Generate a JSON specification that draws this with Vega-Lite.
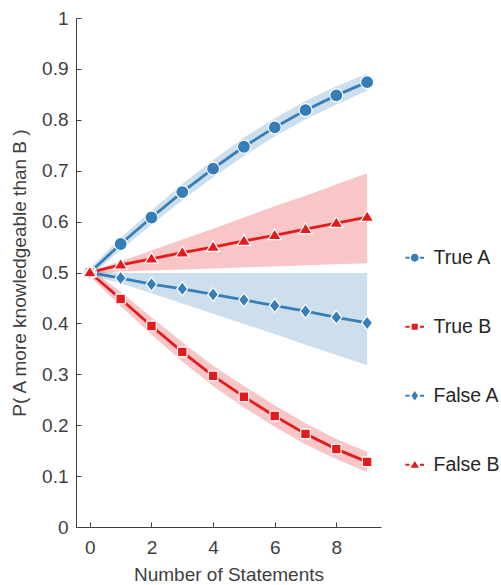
{
  "$schema": "https://vega.github.io/schema/vega-lite/v6.json",
  "autosize": {"type": "none"},
  "padding": {"left": 76, "top": 18, "right": 120, "bottom": 58},
  "width": 305,
  "height": 509,
  "background": "white",
  "config": {
    "view": {"stroke": null},
    "font": "Liberation Sans",
    "axis": {
      "grid": false,
      "domainColor": "#404040",
      "domainWidth": 1,
      "tickColor": "#404040",
      "tickSize": -5,
      "labelFont": "Liberation Sans",
      "labelFontSize": 19,
      "labelColor": "#404040",
      "titleFont": "Liberation Sans",
      "titleFontSize": 19,
      "titleFontWeight": "normal",
      "titleColor": "#404040"
    }
  },
  "data": {
    "values": [
      {"series": "True A", "x": 0, "y": 0.5, "lo": 0.492, "hi": 0.508},
      {"series": "True A", "x": 1, "y": 0.556, "lo": 0.544, "hi": 0.568},
      {"series": "True A", "x": 2, "y": 0.608, "lo": 0.594, "hi": 0.622},
      {"series": "True A", "x": 3, "y": 0.658, "lo": 0.642, "hi": 0.674},
      {"series": "True A", "x": 4, "y": 0.704, "lo": 0.687, "hi": 0.721},
      {"series": "True A", "x": 5, "y": 0.747, "lo": 0.729, "hi": 0.765},
      {"series": "True A", "x": 6, "y": 0.785, "lo": 0.767, "hi": 0.803},
      {"series": "True A", "x": 7, "y": 0.819, "lo": 0.801, "hi": 0.837},
      {"series": "True A", "x": 8, "y": 0.848, "lo": 0.830, "hi": 0.866},
      {"series": "True A", "x": 9, "y": 0.874, "lo": 0.857, "hi": 0.891},
      {"series": "True B", "x": 0, "y": 0.5, "lo": 0.492, "hi": 0.508},
      {"series": "True B", "x": 1, "y": 0.448, "lo": 0.434, "hi": 0.462},
      {"series": "True B", "x": 2, "y": 0.395, "lo": 0.378, "hi": 0.412},
      {"series": "True B", "x": 3, "y": 0.344, "lo": 0.325, "hi": 0.363},
      {"series": "True B", "x": 4, "y": 0.297, "lo": 0.277, "hi": 0.317},
      {"series": "True B", "x": 5, "y": 0.256, "lo": 0.235, "hi": 0.277},
      {"series": "True B", "x": 6, "y": 0.218, "lo": 0.197, "hi": 0.239},
      {"series": "True B", "x": 7, "y": 0.183, "lo": 0.162, "hi": 0.204},
      {"series": "True B", "x": 8, "y": 0.153, "lo": 0.133, "hi": 0.173},
      {"series": "True B", "x": 9, "y": 0.128, "lo": 0.108, "hi": 0.148},
      {"series": "False A", "x": 0, "y": 0.5, "lo": 0.495, "hi": 0.505},
      {"series": "False A", "x": 1, "y": 0.489, "lo": 0.479, "hi": 0.499},
      {"series": "False A", "x": 2, "y": 0.477, "lo": 0.459, "hi": 0.499},
      {"series": "False A", "x": 3, "y": 0.468, "lo": 0.439, "hi": 0.499},
      {"series": "False A", "x": 4, "y": 0.457, "lo": 0.419, "hi": 0.499},
      {"series": "False A", "x": 5, "y": 0.446, "lo": 0.399, "hi": 0.499},
      {"series": "False A", "x": 6, "y": 0.435, "lo": 0.379, "hi": 0.499},
      {"series": "False A", "x": 7, "y": 0.424, "lo": 0.358, "hi": 0.499},
      {"series": "False A", "x": 8, "y": 0.412, "lo": 0.338, "hi": 0.499},
      {"series": "False A", "x": 9, "y": 0.401, "lo": 0.318, "hi": 0.499},
      {"series": "False B", "x": 0, "y": 0.5, "lo": 0.497, "hi": 0.503},
      {"series": "False B", "x": 1, "y": 0.515, "lo": 0.502, "hi": 0.522},
      {"series": "False B", "x": 2, "y": 0.527, "lo": 0.504, "hi": 0.543},
      {"series": "False B", "x": 3, "y": 0.539, "lo": 0.506, "hi": 0.565},
      {"series": "False B", "x": 4, "y": 0.55, "lo": 0.508, "hi": 0.586},
      {"series": "False B", "x": 5, "y": 0.562, "lo": 0.51, "hi": 0.608},
      {"series": "False B", "x": 6, "y": 0.573, "lo": 0.512, "hi": 0.63},
      {"series": "False B", "x": 7, "y": 0.585, "lo": 0.514, "hi": 0.651},
      {"series": "False B", "x": 8, "y": 0.597, "lo": 0.516, "hi": 0.673},
      {"series": "False B", "x": 9, "y": 0.609, "lo": 0.518, "hi": 0.695}
    ]
  },
  "encoding": {
    "x": {
      "field": "x", "type": "quantitative",
      "scale": {"domain": [-0.45, 9.45], "nice": false, "zero": false},
      "axis": {"values": [0, 2, 4, 6, 8], "title": "Number of Statements", "labelPadding": 16, "titlePadding": 8}
    },
    "color": {
      "field": "series", "type": "nominal",
      "scale": {"domain": ["True A", "True B", "False A", "False B"], "range": ["#377eb8", "#e41a1c", "#377eb8", "#e41a1c"]},
      "legend": null
    }
  },
  "resolve": {"scale": {"color": "independent", "shape": "independent"}},
  "layer": [
    {
      "mark": {"type": "area", "opacity": 0.25},
      "encoding": {
        "y": {
          "field": "lo", "type": "quantitative",
          "scale": {"domain": [0, 1], "nice": false},
          "axis": {"values": [0, 0.1, 0.2, 0.3, 0.4, 0.5, 0.6, 0.7, 0.8, 0.9, 1], "format": ".1~f", "title": "P( A more knowledgeable than B )", "labelPadding": 13, "titlePadding": 12}
        },
        "y2": {"field": "hi"}
      }
    },
    {
      "mark": {"type": "line", "strokeWidth": 2.8},
      "encoding": {"y": {"field": "y", "type": "quantitative"}}
    },
    {
      "mark": {"type": "point", "filled": true, "opacity": 1, "stroke": "white", "strokeWidth": 1.2, "size": 210},
      "encoding": {
        "y": {"field": "y", "type": "quantitative"},
        "shape": {
          "field": "series", "type": "nominal",
          "scale": {
            "domain": ["True A", "True B", "False A", "False B"],
            "range": [
              "M0.9,0A0.9,0.9 0 1,1 -0.9,0A0.9,0.9 0 1,1 0.9,0Z",
              "M-0.66,-0.66H0.66V0.66H-0.66Z",
              "M0,-0.95L0.75,0L0,0.95L-0.75,0Z",
              "M0,-0.88L0.92,0.6L-0.92,0.6Z"
            ]
          },
          "legend": null
        }
      }
    },
    {
      "transform": [{"filter": "false"}],
      "mark": {"type": "point", "filled": true, "opacity": 1},
      "encoding": {
        "y": {"field": "y", "type": "quantitative"},
        "color": {
          "field": "series", "type": "nominal",
          "scale": {"domain": ["True A", "True B", "False A", "False B"], "range": ["#377eb8", "#e41a1c", "#377eb8", "#e41a1c"]},
          "legend": {
            "title": null, "orient": "none", "legendX": 329, "legendY": 230,
            "labelFont": "Liberation Sans", "labelFontSize": 19.5, "labelColor": "#262626",
            "labelOffset": 9, "rowPadding": 48, "symbolSize": 100, "symbolStrokeWidth": 0
          }
        },
        "shape": {
          "field": "series", "type": "nominal",
          "scale": {
            "domain": ["True A", "True B", "False A", "False B"],
            "range": [
              "M-1.85,-0.2H-1.05V0.2H-1.85Z M1.05,-0.2H1.85V0.2H1.05Z M0.78,0A0.78,0.78 0 1,1 -0.78,0A0.78,0.78 0 1,1 0.78,0Z",
              "M-1.85,-0.2H-1.05V0.2H-1.85Z M1.05,-0.2H1.85V0.2H1.05Z M-0.6,-0.6H0.6V0.6H-0.6Z",
              "M-1.85,-0.2H-1.05V0.2H-1.85Z M1.05,-0.2H1.85V0.2H1.05Z M0,-0.95L0.65,0L0,0.95L-0.65,0Z",
              "M-1.85,-0.2H-1.05V0.2H-1.85Z M1.05,-0.2H1.85V0.2H1.05Z M0,-0.75L0.85,0.6L-0.85,0.6Z"
            ]
          },
          "legend": {
            "title": null, "orient": "none", "legendX": 329, "legendY": 230,
            "labelFont": "Liberation Sans", "labelFontSize": 19.5, "labelColor": "#262626",
            "labelOffset": 9, "rowPadding": 48, "symbolSize": 100, "symbolStrokeWidth": 0
          }
        }
      }
    }
  ]
}
